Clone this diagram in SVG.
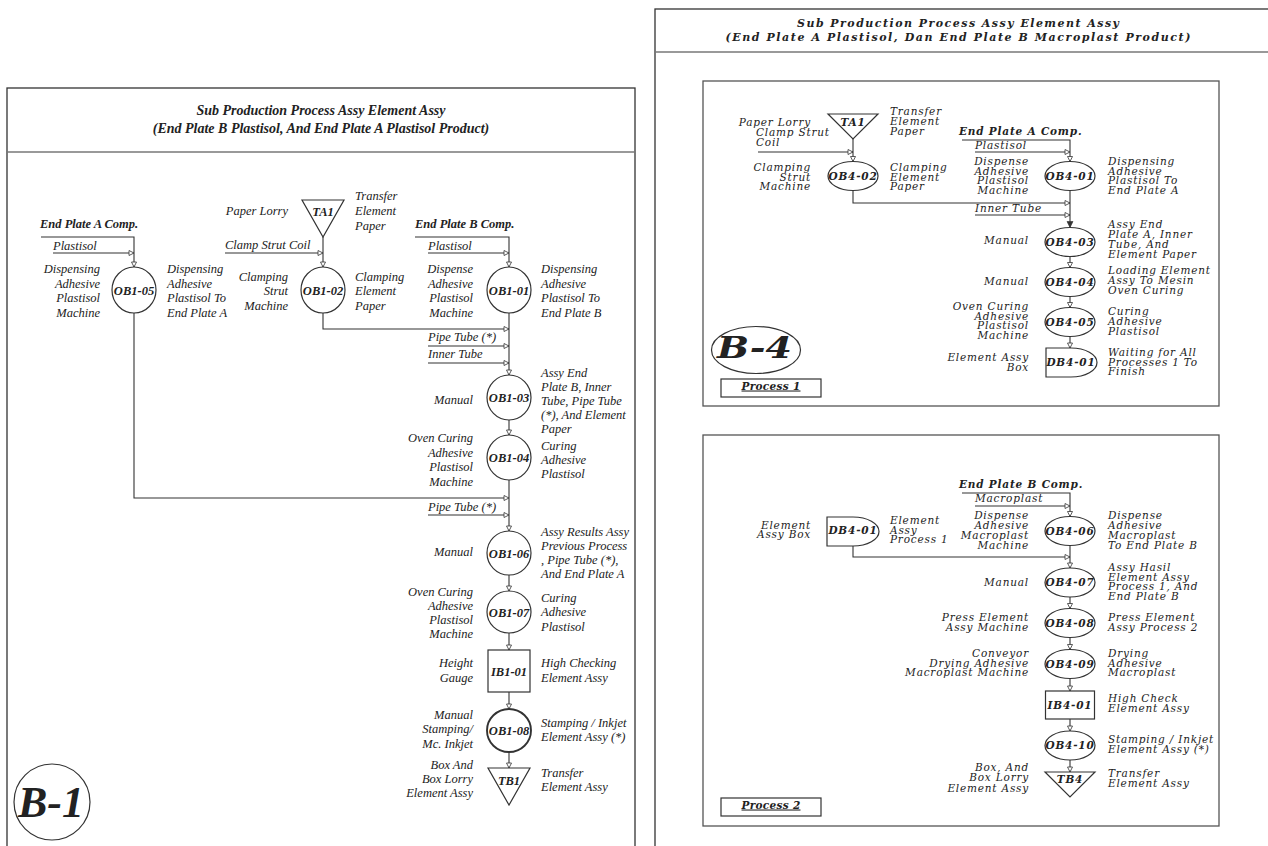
<svg xmlns="http://www.w3.org/2000/svg" width="1268" height="846" viewBox="0 0 1268 846">
<defs>
<marker id="arr" markerUnits="userSpaceOnUse" markerWidth="8" markerHeight="8" refX="5" refY="2.5" orient="auto" viewBox="-1 -1.5 8 8">
<path d="M0,0 L5,2.5 L0,5 Z" fill="#fff" stroke="#333" stroke-width="0.8"/>
</marker>
<marker id="arrf" markerUnits="userSpaceOnUse" markerWidth="8" markerHeight="8" refX="6" refY="3" orient="auto" viewBox="-1 -1 8 8">
<path d="M0,0 L6,3 L0,6 Z" fill="#333" stroke="#333" stroke-width="0.6"/>
</marker>
</defs>
<style>
.t{font-family:"Liberation Serif","Times New Roman",serif;font-style:italic;font-size:12.5px;fill:#222}
.h{font-family:"Liberation Serif","Times New Roman",serif;font-style:italic;font-weight:bold;font-size:14px;fill:#222;text-anchor:middle}
.u{font-family:"DejaVu Serif",serif;font-style:italic;font-size:10.5px;letter-spacing:0.8px;fill:#222}
.hu{font-family:"DejaVu Serif",serif;font-style:italic;font-weight:bold;font-size:11px;fill:#222;text-anchor:middle}
.r{text-anchor:end}
.c{text-anchor:middle}
.b{font-weight:bold}
.big1{font-family:"Liberation Serif","Times New Roman",serif;font-style:italic;font-weight:bold;font-size:45px;fill:#222}
.big4{font-family:"DejaVu Serif",serif;font-style:italic;font-weight:bold;font-size:30px;fill:#222}
.pl{font-family:"DejaVu Serif",serif;font-style:italic;font-weight:bold;font-size:10.5px;letter-spacing:0.3px;fill:#222;text-anchor:middle;text-decoration:underline}
.ln{fill:none;stroke:#333;stroke-width:1.1}
.nd{fill:#fff;stroke:#333;stroke-width:1.2}
.frame{fill:none;stroke:#333;stroke-width:1.3}
.sep{fill:none;stroke:#777;stroke-width:1.3}
.box{fill:none;stroke:#555;stroke-width:1.3}
</style>
<rect width="1268" height="846" fill="#fff"/>

<!-- LEFT PANEL FRAME -->
<g id="panel-b1">
<rect class="frame" x="7" y="88" width="628" height="780"/>
<line class="sep" x1="7" y1="152" x2="635" y2="152"/>
<text class="h" x="321" y="114.5">Sub Production Process Assy Element Assy</text>
<text class="h" x="321" y="133">(End Plate B Plastisol, And End Plate A Plastisol Product)</text>
</g>

<!-- RIGHT PANEL FRAME -->
<g id="panel-b4">
<rect class="frame" x="655" y="9" width="700" height="900"/>
<line class="sep" x1="655" y1="52" x2="1268" y2="52"/>
<text class="hu" x="958" y="27" textLength="322" lengthAdjust="spacing">Sub Production Process Assy Element Assy</text>
<text class="hu" x="958" y="40.5" textLength="465" lengthAdjust="spacing">(End Plate A Plastisol, Dan End Plate B Macroplast Product)</text>
<rect class="box" x="703" y="81" width="516" height="325"/>
<rect class="box" x="703" y="435" width="516" height="391"/>
</g>

<!-- CONNECTORS -->
<g id="connectors">
<path class="ln" d="M41,237 H134 V267" marker-end="url(#arr)"/>
<path class="ln" d="M53,253 H134" marker-end="url(#arr)"/>
<path class="ln" d="M323,237 V267" marker-end="url(#arr)"/>
<path class="ln" d="M225,253 H323" marker-end="url(#arr)"/>
<path class="ln" d="M415,237 H509 V267" marker-end="url(#arr)"/>
<path class="ln" d="M428,253 H509" marker-end="url(#arr)"/>
<path class="ln" d="M323,313 V329 H509" marker-end="url(#arr)"/>
<path class="ln" d="M428,346 H509" marker-end="url(#arr)"/>
<path class="ln" d="M428,363 H509" marker-end="url(#arr)"/>
<path class="ln" d="M509,313 V375" marker-end="url(#arr)"/>
<path class="ln" d="M509,420 V435" marker-end="url(#arr)"/>
<path class="ln" d="M509,480 V531" marker-end="url(#arr)"/>
<path class="ln" d="M134,313 V498 H509" marker-end="url(#arr)"/>
<path class="ln" d="M428,515 H509" marker-end="url(#arr)"/>
<path class="ln" d="M509,575 V591" marker-end="url(#arr)"/>
<path class="ln" d="M509,633 V650" marker-end="url(#arr)"/>
<path class="ln" d="M509,692 V709" marker-end="url(#arr)"/>
<path class="ln" d="M509,752 V768" marker-end="url(#arr)"/>
<path class="ln" d="M758,152 H853" marker-end="url(#arr)"/>
<path class="ln" d="M853,139 V161.5" marker-end="url(#arr)"/>
<path class="ln" d="M962,140 H1070 V161.5" marker-end="url(#arr)"/>
<path class="ln" d="M975,152 H1070" marker-end="url(#arr)"/>
<path class="ln" d="M853,190.5 V203 H1070" marker-end="url(#arr)"/>
<path class="ln" d="M975,215 H1070" marker-end="url(#arr)"/>
<path class="ln" d="M1070,190.5 V227.5" marker-end="url(#arrf)"/>
<path class="ln" d="M1070,256.5 V267.5" marker-end="url(#arr)"/>
<path class="ln" d="M1070,296.5 V307.5" marker-end="url(#arr)"/>
<path class="ln" d="M1070,336.5 V348" marker-end="url(#arr)"/>
<path class="ln" d="M962,493 H1070 V516.5" marker-end="url(#arr)"/>
<path class="ln" d="M975,506 H1070" marker-end="url(#arr)"/>
<path class="ln" d="M853,546 V557 H1070" marker-end="url(#arr)"/>
<path class="ln" d="M1070,545.5 V568" marker-end="url(#arr)"/>
<path class="ln" d="M1070,597 V608.5" marker-end="url(#arr)"/>
<path class="ln" d="M1070,637.5 V649.5" marker-end="url(#arr)"/>
<path class="ln" d="M1070,678.5 V691" marker-end="url(#arr)"/>
<path class="ln" d="M1070,719 V731" marker-end="url(#arr)"/>
<path class="ln" d="M1070,760 V772" marker-end="url(#arr)"/>
</g>

<g id="inputs-b1">
<text class="t b" x="40" y="227.5">End Plate A Comp.</text>
<text class="t" x="53" y="249.5">Plastisol</text>
<text class="t" x="225" y="248.5">Clamp Strut Coil</text>
<text class="t b" x="415" y="227.5">End Plate B Comp.</text>
<text class="t" x="428" y="249.5">Plastisol</text>
<text class="t" x="428" y="341">Pipe Tube (*)</text>
<text class="t" x="428" y="358">Inner Tube</text>
<text class="t" x="428" y="511">Pipe Tube (*)</text>
</g>

<g id="TA1-b1">
<polygon class="nd" points="302,200 344,200 323,237"/>
<text class="t b c" x="323" y="215.5">TA1</text>
<text class="t r" x="288" y="215">Paper Lorry</text>
<text class="t" y="199.5"><tspan x="355">Transfer</tspan><tspan x="355" dy="15">Element</tspan><tspan x="355" dy="15">Paper</tspan></text>
</g>

<g id="OB1-05">
<ellipse class="nd" cx="134" cy="290" rx="22" ry="23"/>
<text class="t b c" x="134" y="294.5">OB1-05</text>
<text class="t r" y="273"><tspan x="100">Dispensing</tspan><tspan x="100" dy="14.5">Adhesive</tspan><tspan x="100" dy="14.5">Plastisol</tspan><tspan x="100" dy="14.5">Machine</tspan></text>
<text class="t" y="273"><tspan x="167">Dispensing</tspan><tspan x="167" dy="14.5">Adhesive</tspan><tspan x="167" dy="14.5">Plastisol To</tspan><tspan x="167" dy="14.5">End Plate A</tspan></text>
</g>

<g id="OB1-02">
<ellipse class="nd" cx="323" cy="290" rx="22" ry="23"/>
<text class="t b c" x="323" y="294.5">OB1-02</text>
<text class="t r" y="281"><tspan x="288">Clamping</tspan><tspan x="288" dy="14.3">Strut</tspan><tspan x="288" dy="14.3">Machine</tspan></text>
<text class="t" y="281"><tspan x="355">Clamping</tspan><tspan x="355" dy="14.3">Element</tspan><tspan x="355" dy="14.3">Paper</tspan></text>
</g>

<g id="OB1-01">
<ellipse class="nd" cx="509" cy="290" rx="22" ry="23"/>
<text class="t b c" x="509" y="294.5">OB1-01</text>
<text class="t r" y="273"><tspan x="473">Dispense</tspan><tspan x="473" dy="14.5">Adhesive</tspan><tspan x="473" dy="14.5">Plastisol</tspan><tspan x="473" dy="14.5">Machine</tspan></text>
<text class="t" y="273"><tspan x="541">Dispensing</tspan><tspan x="541" dy="14.5">Adhesive</tspan><tspan x="541" dy="14.5">Plastisol To</tspan><tspan x="541" dy="14.5">End Plate B</tspan></text>
</g>

<g id="OB1-03">
<ellipse class="nd" cx="509" cy="397.5" rx="22" ry="22.5"/>
<text class="t b c" x="509" y="402">OB1-03</text>
<text class="t r" x="473" y="404">Manual</text>
<text class="t" y="376.5"><tspan x="541">Assy End</tspan><tspan x="541" dy="14">Plate B, Inner</tspan><tspan x="541" dy="14">Tube, Pipe Tube</tspan><tspan x="541" dy="14">(*), And Element</tspan><tspan x="541" dy="14">Paper</tspan></text>
</g>

<g id="OB1-04">
<ellipse class="nd" cx="509" cy="457.5" rx="22" ry="22.5"/>
<text class="t b c" x="509" y="462">OB1-04</text>
<text class="t r" y="442"><tspan x="473">Oven Curing</tspan><tspan x="473" dy="14.5">Adhesive</tspan><tspan x="473" dy="14.5">Plastisol</tspan><tspan x="473" dy="14.5">Machine</tspan></text>
<text class="t" y="450"><tspan x="541">Curing</tspan><tspan x="541" dy="14">Adhesive</tspan><tspan x="541" dy="14">Plastisol</tspan></text>
</g>

<g id="OB1-06">
<ellipse class="nd" cx="509" cy="553" rx="22" ry="22"/>
<text class="t b c" x="509" y="557.5">OB1-06</text>
<text class="t r" x="473" y="556">Manual</text>
<text class="t" y="536"><tspan x="541">Assy Results Assy</tspan><tspan x="541" dy="14">Previous Process</tspan><tspan x="541" dy="14">, Pipe Tube (*),</tspan><tspan x="541" dy="14">And End Plate A</tspan></text>
</g>

<g id="OB1-07">
<ellipse class="nd" cx="509" cy="612" rx="22" ry="21"/>
<text class="t b c" x="509" y="616.5">OB1-07</text>
<text class="t r" y="595.5"><tspan x="473">Oven Curing</tspan><tspan x="473" dy="14">Adhesive</tspan><tspan x="473" dy="14">Plastisol</tspan><tspan x="473" dy="14">Machine</tspan></text>
<text class="t" y="601.5"><tspan x="541">Curing</tspan><tspan x="541" dy="14.5">Adhesive</tspan><tspan x="541" dy="14.5">Plastisol</tspan></text>
</g>

<g id="IB1-01">
<rect class="nd" x="488" y="650" width="42" height="42"/>
<text class="t b c" x="509" y="675.5">IB1-01</text>
<text class="t r" y="666.5"><tspan x="473">Height</tspan><tspan x="473" dy="15">Gauge</tspan></text>
<text class="t" y="666.5"><tspan x="541">High Checking</tspan><tspan x="541" dy="15">Element Assy</tspan></text>
</g>

<g id="OB1-08">
<ellipse class="nd" cx="509" cy="730.5" rx="22" ry="21.5" style="stroke-width:1.9"/>
<text class="t b c" x="509" y="735">OB1-08</text>
<text class="t r" y="718.5"><tspan x="473">Manual</tspan><tspan x="473" dy="14.5">Stamping/</tspan><tspan x="473" dy="14.5">Mc. Inkjet</tspan></text>
<text class="t" y="726.5"><tspan x="541">Stamping / Inkjet</tspan><tspan x="541" dy="14">Element Assy (*)</tspan></text>
</g>

<g id="TB1">
<polygon class="nd" points="488,768 530,768 509,805"/>
<text class="t b c" x="509" y="784.5">TB1</text>
<text class="t r" y="768.5"><tspan x="473">Box And</tspan><tspan x="473" dy="14.3">Box Lorry</tspan><tspan x="473" dy="14.3">Element Assy</tspan></text>
<text class="t" y="776.5"><tspan x="541">Transfer</tspan><tspan x="541" dy="14">Element Assy</tspan></text>
</g>

<g id="B-1-label">
<ellipse class="nd" cx="52" cy="802" rx="38" ry="38"/>
<text class="big1" x="18" y="817" textLength="66" lengthAdjust="spacingAndGlyphs">B-1</text>
</g>

<g id="inputs-b4-p1">
<text class="u" y="136"><tspan x="756">Clamp Strut</tspan><tspan x="756" dy="10">Coil</tspan></text>
<text class="u b" x="959" y="134.5">End Plate A Comp.</text>
<text class="u" x="975" y="148.5">Plastisol</text>
<text class="u" x="975" y="212">Inner Tube</text>
</g>

<g id="TA1-b4">
<polygon class="nd" points="828,114 878,114 853,139"/>
<text class="u b c" x="853" y="125.5">TA1</text>
<text class="u r" x="811" y="125.5">Paper Lorry</text>
<text class="u" y="114.5"><tspan x="890">Transfer</tspan><tspan x="890" dy="10.3">Element</tspan><tspan x="890" dy="10.3">Paper</tspan></text>
</g>

<g id="OB4-02">
<ellipse class="nd" cx="853" cy="176" rx="25" ry="14.5"/>
<text class="u b c" x="853" y="179.5">OB4-02</text>
<text class="u r" y="171"><tspan x="811">Clamping</tspan><tspan x="811" dy="9.7">Strut</tspan><tspan x="811" dy="9.7">Machine</tspan></text>
<text class="u" y="171"><tspan x="890">Clamping</tspan><tspan x="890" dy="9.7">Element</tspan><tspan x="890" dy="9.7">Paper</tspan></text>
</g>

<g id="OB4-01">
<ellipse class="nd" cx="1070" cy="176" rx="25" ry="14.5"/>
<text class="u b c" x="1070" y="179.5">OB4-01</text>
<text class="u r" y="165"><tspan x="1029">Dispense</tspan><tspan x="1029" dy="9.7">Adhesive</tspan><tspan x="1029" dy="9.7">Plastisol</tspan><tspan x="1029" dy="9.7">Machine</tspan></text>
<text class="u" y="165"><tspan x="1108">Dispensing</tspan><tspan x="1108" dy="9.7">Adhesive</tspan><tspan x="1108" dy="9.7">Plastisol To</tspan><tspan x="1108" dy="9.7">End Plate A</tspan></text>
</g>

<g id="OB4-03">
<ellipse class="nd" cx="1070" cy="242" rx="25" ry="14.5"/>
<text class="u b c" x="1070" y="245.5">OB4-03</text>
<text class="u r" x="1029" y="243.5">Manual</text>
<text class="u" y="228"><tspan x="1108">Assy End</tspan><tspan x="1108" dy="10">Plate A, Inner</tspan><tspan x="1108" dy="10">Tube, And</tspan><tspan x="1108" dy="10">Element Paper</tspan></text>
</g>

<g id="OB4-04">
<ellipse class="nd" cx="1070" cy="282" rx="25" ry="14.5"/>
<text class="u b c" x="1070" y="285.5">OB4-04</text>
<text class="u r" x="1029" y="285">Manual</text>
<text class="u" y="274"><tspan x="1108">Loading Element</tspan><tspan x="1108" dy="10">Assy To Mesin</tspan><tspan x="1108" dy="10">Oven Curing</tspan></text>
</g>

<g id="OB4-05">
<ellipse class="nd" cx="1070" cy="322" rx="25" ry="14.5"/>
<text class="u b c" x="1070" y="325.5">OB4-05</text>
<text class="u r" y="310"><tspan x="1029">Oven Curing</tspan><tspan x="1029" dy="9.7">Adhesive</tspan><tspan x="1029" dy="9.7">Plastisol</tspan><tspan x="1029" dy="9.7">Machine</tspan></text>
<text class="u" y="315"><tspan x="1108">Curing</tspan><tspan x="1108" dy="9.8">Adhesive</tspan><tspan x="1108" dy="9.8">Plastisol</tspan></text>
</g>

<g id="DB4-01-p1">
<path class="nd" d="M1046,348 H1071 A26,14.5 0 0 1 1071,377 H1046 Z"/>
<text class="u b c" x="1071" y="365.5">DB4-01</text>
<text class="u r" y="361"><tspan x="1029">Element Assy</tspan><tspan x="1029" dy="10">Box</tspan></text>
<text class="u" y="356"><tspan x="1108">Waiting for All</tspan><tspan x="1108" dy="9.7">Processes 1 To</tspan><tspan x="1108" dy="9.7">Finish</tspan></text>
</g>

<g id="B-4-label">
<ellipse class="nd" cx="756" cy="350" rx="44.5" ry="23.5"/>
<text class="big4" x="717" y="358" textLength="75" lengthAdjust="spacingAndGlyphs">B-4</text>
</g>

<g id="process-1">
<rect class="nd" x="721" y="379" width="100" height="18"/>
<text class="pl" x="771" y="389.5">Process 1</text>
</g>

<g id="inputs-b4-p2">
<text class="u b" x="959" y="488">End Plate B Comp.</text>
<text class="u" x="975" y="502">Macroplast</text>
</g>

<g id="OB4-06">
<ellipse class="nd" cx="1070" cy="531" rx="25" ry="14.5"/>
<text class="u b c" x="1070" y="534.5">OB4-06</text>
<text class="u r" y="518.5"><tspan x="1029">Dispense</tspan><tspan x="1029" dy="10">Adhesive</tspan><tspan x="1029" dy="10">Macroplast</tspan><tspan x="1029" dy="10">Machine</tspan></text>
<text class="u" y="518.5"><tspan x="1108">Dispense</tspan><tspan x="1108" dy="10">Adhesive</tspan><tspan x="1108" dy="10">Macroplast</tspan><tspan x="1108" dy="10">To End Plate B</tspan></text>
</g>

<g id="DB4-01-p2">
<path class="nd" d="M827,517 H853 A26,14.5 0 0 1 853,546 H827 Z"/>
<text class="u b c" x="853" y="533.5">DB4-01</text>
<text class="u r" y="528.5"><tspan x="811">Element</tspan><tspan x="811" dy="9.5">Assy Box</tspan></text>
<text class="u" y="524"><tspan x="890">Element</tspan><tspan x="890" dy="9.7">Assy</tspan><tspan x="890" dy="9.7">Process 1</tspan></text>
</g>

<g id="OB4-07">
<ellipse class="nd" cx="1070" cy="582.5" rx="25" ry="14.5"/>
<text class="u b c" x="1070" y="586">OB4-07</text>
<text class="u r" x="1029" y="586">Manual</text>
<text class="u" y="571"><tspan x="1108">Assy Hasil</tspan><tspan x="1108" dy="9.7">Element Assy</tspan><tspan x="1108" dy="9.7">Process 1, And</tspan><tspan x="1108" dy="9.7">End Plate B</tspan></text>
</g>

<g id="OB4-08">
<ellipse class="nd" cx="1070" cy="623" rx="25" ry="14.5"/>
<text class="u b c" x="1070" y="626.5">OB4-08</text>
<text class="u r" y="621"><tspan x="1029">Press Element</tspan><tspan x="1029" dy="9.5">Assy Machine</tspan></text>
<text class="u" y="621"><tspan x="1108">Press Element</tspan><tspan x="1108" dy="9.5">Assy Process 2</tspan></text>
</g>

<g id="OB4-09">
<ellipse class="nd" cx="1070" cy="664" rx="25" ry="14.5"/>
<text class="u b c" x="1070" y="667.5">OB4-09</text>
<text class="u r" y="657"><tspan x="1029">Conveyor</tspan><tspan x="1029" dy="9.5">Drying Adhesive</tspan><tspan x="1029" dy="9.5">Macroplast Machine</tspan></text>
<text class="u" y="657"><tspan x="1108">Drying</tspan><tspan x="1108" dy="9.5">Adhesive</tspan><tspan x="1108" dy="9.5">Macroplast</tspan></text>
</g>

<g id="IB4-01">
<rect class="nd" x="1045.5" y="691" width="49" height="28"/>
<text class="u b c" x="1070" y="708.5">IB4-01</text>
<text class="u" y="702"><tspan x="1108">High Check</tspan><tspan x="1108" dy="10">Element Assy</tspan></text>
</g>

<g id="OB4-10">
<ellipse class="nd" cx="1070" cy="745.5" rx="25" ry="14.5"/>
<text class="u b c" x="1070" y="749">OB4-10</text>
<text class="u" y="742.5"><tspan x="1108">Stamping / Inkjet</tspan><tspan x="1108" dy="10">Element Assy (*)</tspan></text>
</g>

<g id="TB4">
<polygon class="nd" points="1045,772 1095,772 1070,797"/>
<text class="u b c" x="1070" y="783">TB4</text>
<text class="u r" y="771"><tspan x="1029">Box, And</tspan><tspan x="1029" dy="10.3">Box Lorry</tspan><tspan x="1029" dy="10.3">Element Assy</tspan></text>
<text class="u" y="777"><tspan x="1108">Transfer</tspan><tspan x="1108" dy="10">Element Assy</tspan></text>
</g>

<g id="process-2">
<rect class="nd" x="721" y="798" width="100" height="18"/>
<text class="pl" x="771" y="808.5">Process 2</text>
</g>
</svg>
